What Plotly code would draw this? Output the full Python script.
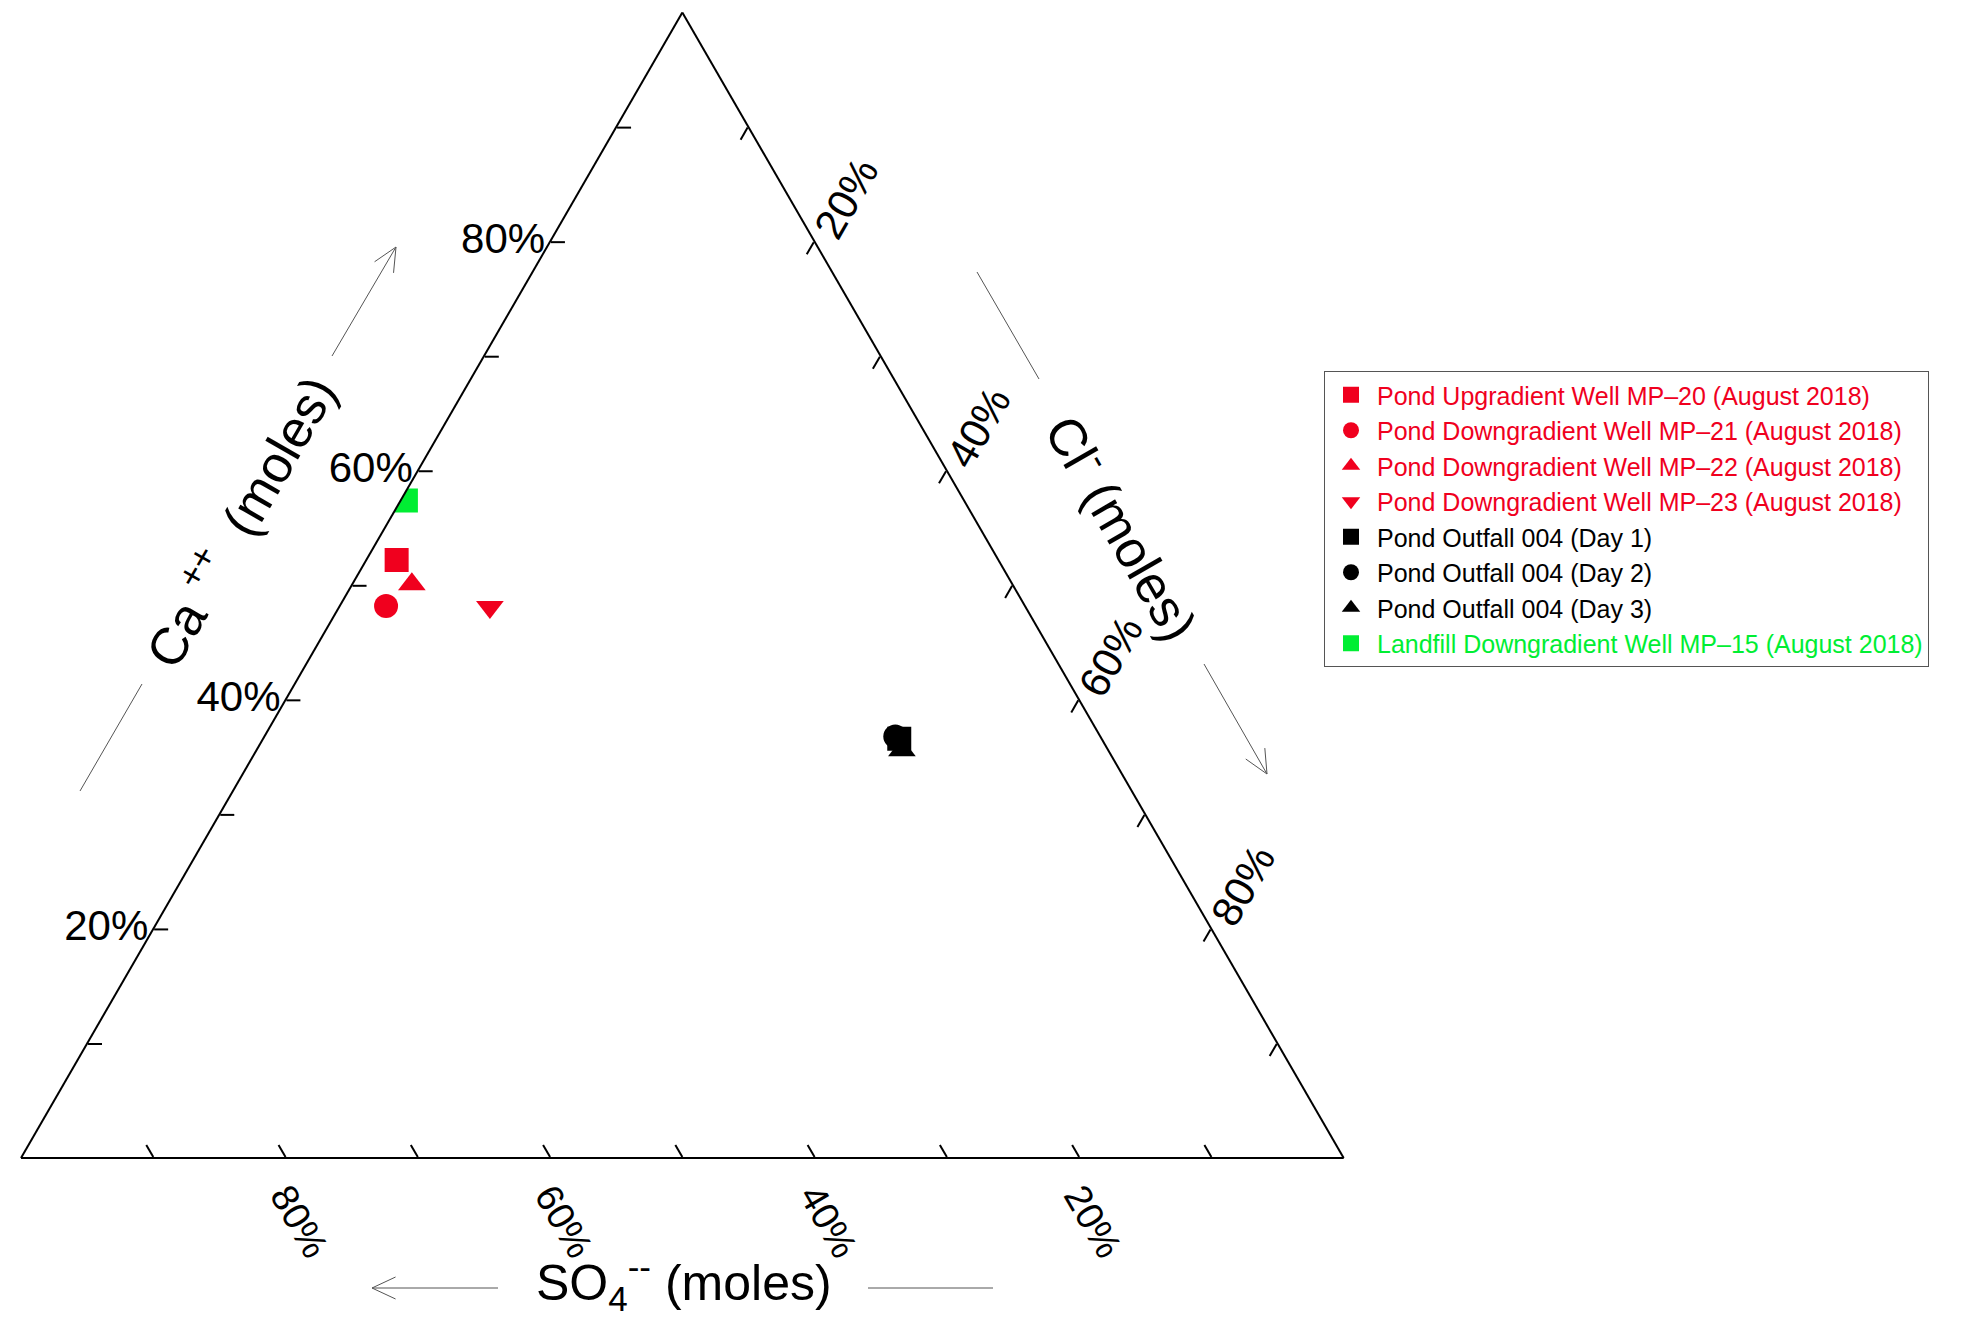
import math
import plotly.graph_objects as go

W, H = 1963, 1323

# ---------------- data (percent of moles) ----------------
samples = [
    "Pond Upgradient Well MP\u201320 (August 2018)",
    "Pond Downgradient Well MP\u201321 (August 2018)",
    "Pond Downgradient Well MP\u201322 (August 2018)",
    "Pond Downgradient Well MP\u201323 (August 2018)",
    "Pond Outfall 004 (Day 1)",
    "Pond Outfall 004 (Day 2)",
    "Pond Outfall 004 (Day 3)",
    "Landfill Downgradient Well MP\u201315 (August 2018)",
]
ca_pct = [52.2, 48.2, 50.1, 48.1, 36.6, 36.8, 35.6, 57.4]
so4_pct = [45.5, 48.3, 45.4, 40.5, 15.3, 15.5, 15.6, 42.2]
cl_pct = [2.3, 3.5, 4.5, 11.4, 48.1, 47.7, 48.8, 0.4]
symbols = ["square", "circle", "triangle-up", "triangle-down",
           "square", "circle", "triangle-up", "square"]
RED, BLACK, GREEN = "#F0001E", "#000000", "#00EE33"
colors = [RED, RED, RED, RED, BLACK, BLACK, BLACK, GREEN]

tick_vals = [10, 20, 30, 40, 50, 60, 70, 80, 90]
tick_text = ["", "20%", "", "40%", "", "60%", "", "80%", ""]

FONT = "Liberation Sans, Arial, sans-serif"

fig = go.Figure()
for name, a, b, c, sym, col in zip(samples, ca_pct, so4_pct, cl_pct, symbols, colors):
    fig.add_trace(go.Scatterternary(
        a=[a], b=[b], c=[c], mode="markers",
        name=f"<span style='color:{col}'>{name}</span>",
        marker=dict(symbol=sym, size=24, color=col, line=dict(width=0)),
    ))


def px(x):
    return x / W


def py(y):
    return 1 - y / H


def axis_style(size):
    return dict(
        tickmode="array", tickvals=tick_vals, ticktext=tick_text,
        ticks="inside", ticklen=14, tickwidth=1.5, tickcolor="black",
        showline=True, linecolor="black", linewidth=2, showgrid=False,
        tickfont=dict(family=FONT, size=size, color="black"),
        title=dict(text=""),
    )


fig.update_layout(
    width=W, height=H,
    margin=dict(l=0, r=0, t=0, b=0),
    paper_bgcolor="white",
    font=dict(family=FONT, color="black"),
    ternary=dict(
        sum=100,
        bgcolor="white",
        domain=dict(x=[0.0076, 0.6876], y=[0.1247, 0.9905]),
        aaxis=dict(axis_style(42), tickangle=0),
        baxis=dict(axis_style(38), tickangle=60),
        caxis=dict(axis_style(42), tickangle=-60),
    ),
    legend=dict(
        x=px(1324), y=py(371), xanchor="left", yanchor="top",
        bordercolor="#555555", borderwidth=1, bgcolor="white",
        font=dict(family=FONT, size=25, color="black"),
        itemwidth=42,
        tracegroupgap=0,
    ),
    showlegend=True,
)


def label(x, y, text, size, angle=0):
    fig.add_annotation(x=px(x), y=py(y), xref="paper", yref="paper",
                       xanchor="center", yanchor="middle",
                       text=text, textangle=angle, showarrow=False,
                       font=dict(family=FONT, size=size, color="black"))


# axis titles
label(238, 520, "Ca <sup>++</sup>  (moles)", 52, -60)
label(1124, 526, "Cl<sup>-</sup> (moles)", 52, 60)
label(684, 1282, "SO<sub>4</sub><sup>--</sup> (moles)", 50)

# decorative arrows
ARROW = dict(color="#555555", width=1)


def seg(x0, y0, x1, y1):
    fig.add_shape(type="line", xref="paper", yref="paper",
                  x0=px(x0), y0=py(y0), x1=px(x1), y1=py(y1), line=ARROW)


def arrow(x0, y0, x1, y1, head=26):
    seg(x0, y0, x1, y1)
    ang = math.atan2(y1 - y0, x1 - x0)
    for d in (math.radians(155), math.radians(-155)):
        seg(x1, y1, x1 + head * math.cos(ang + d), y1 + head * math.sin(ang + d))


arrow(332, 356, 396, 247)
seg(80, 791, 142, 684)
seg(977, 272, 1039, 379)
arrow(1204, 664, 1267, 774)
arrow(498, 1288, 372, 1288)
seg(868, 1288, 993, 1288)

fig.write_html("out.html")
